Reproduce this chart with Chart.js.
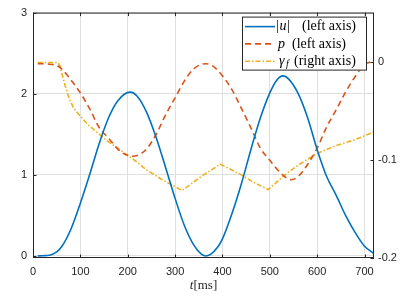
<!DOCTYPE html>
<html>
<head>
<meta charset="utf-8">
<script src="https://cdn.jsdelivr.net/npm/chart.js@4"></script>
<style>
  html, body { margin: 0; padding: 0; background: #fff; }
</style>
</head>
<body>
<canvas id="chart" width="411" height="299"></canvas>
<script>
// |u| (left axis)
var tU = [10, 20, 35, 50, 60, 80, 100, 120, 140, 160, 180, 205, 220, 240, 260, 280, 300, 320, 340, 355, 365,
  375, 390, 400, 420, 440, 460, 480, 500, 515, 528, 540, 560, 580, 600, 620, 640, 660, 680, 700, 720];
var uValues = [0, 0.003, 0.01, 0.05, 0.11, 0.33, 0.65, 1.01, 1.39, 1.71, 1.92, 2.02, 1.97, 1.77, 1.46, 1.09, 0.71, 0.37, 0.13, 0.025, 0,
  0.02, 0.11, 0.21, 0.52, 0.89, 1.31, 1.70, 2.01, 2.17, 2.22, 2.18, 2.00, 1.70, 1.31, 0.98, 0.75, 0.50, 0.29, 0.12, 0.03];

// p (left axis)
var tP = [10, 20, 40, 50, 60, 80, 100, 120, 140, 160, 180, 195, 210, 225, 240, 260, 280, 300, 320, 340, 365,
  380, 400, 420, 440, 460, 480, 500, 520, 545, 560, 580, 600, 620, 640, 660, 680, 700, 720];
var pValues = [2.37, 2.37, 2.36, 2.35, 2.31, 2.17, 2.01, 1.81, 1.58, 1.45, 1.31, 1.25, 1.23, 1.25, 1.32, 1.50, 1.74, 1.95, 2.16, 2.31, 2.37,
  2.34, 2.22, 2.05, 1.82, 1.58, 1.33, 1.18, 1.04, 0.94, 0.98, 1.13, 1.33, 1.59, 1.80, 2.02, 2.21, 2.36, 2.40];

// gamma_f (right axis)
var tGamma = [10, 53, 57, 62, 68, 75, 85, 100, 117, 134, 156, 177, 200, 220, 240, 260, 280, 300, 315,
  340, 360, 380, 395, 420, 440, 460, 480, 497, 520, 540, 560, 580, 600, 620, 640, 660, 680, 700, 720];
var gammaValues = [0, 0, -0.004, -0.013, -0.024, -0.035, -0.046, -0.055, -0.064, -0.071, -0.080, -0.087, -0.095, -0.102, -0.110, -0.116, -0.122, -0.127, -0.131,
  -0.122, -0.115, -0.109, -0.104, -0.110, -0.115, -0.121, -0.126, -0.130, -0.120, -0.112, -0.105, -0.099, -0.093, -0.089, -0.085, -0.082, -0.079, -0.075, -0.071];

var xTicks = [0, 100, 200, 300, 400, 500, 600, 700];
var leftTicks = [0, 1, 2, 3];
var rightTicks = [-0.2, -0.1, 0];

var axisColor = '#262626';
var gridColor = '#dfdfdf';
var tickFont = { family: '"Liberation Sans", Arial, sans-serif', size: 11 };
var serif = '"Liberation Serif", "Times New Roman", serif';

function points(ts, vs) {
  return ts.map(function (t, i) { return { x: t, y: vs[i] }; });
}

// MATLAB-like box, inward ticks, legend and x label
var decorations = {
  id: 'decorations',
  afterDraw: function (chart) {
    var ctx = chart.ctx, a = chart.chartArea, s = chart.scales;
    var len = 3.5;
    ctx.save();
    ctx.strokeStyle = axisColor;
    ctx.lineWidth = 1;
    ctx.beginPath();
    xTicks.forEach(function (v) {
      var x = Math.round(s.x.getPixelForValue(v)) + 0.5;
      ctx.moveTo(x, a.bottom); ctx.lineTo(x, a.bottom - len);
      ctx.moveTo(x, a.top); ctx.lineTo(x, a.top + len);
    });
    leftTicks.forEach(function (v) {
      var y = Math.round(s.y.getPixelForValue(v)) + 0.5;
      ctx.moveTo(a.left, y); ctx.lineTo(a.left + len, y);
    });
    rightTicks.forEach(function (v) {
      var y = Math.round(s.y1.getPixelForValue(v)) + 0.5;
      ctx.moveTo(a.right, y); ctx.lineTo(a.right - len, y);
    });
    ctx.stroke();
    ctx.strokeRect(a.left + 0.5, a.top + 0.5, a.right - a.left - 1, a.bottom - a.top - 1);

    // legend
    var bx = a.right - 132, by = a.top + 4, bw = 125, bh = 54;
    ctx.fillStyle = '#fff';
    ctx.fillRect(bx, by, bw, bh);
    ctx.strokeStyle = axisColor;
    ctx.strokeRect(bx + 0.5, by + 0.5, bw - 1, bh - 1);
    var rom = '14px ' + serif, ita = 'italic 14px ' + serif, sub = 'italic 10px ' + serif;
    var rows = [
      [['|', 34, rom, 0], ['u', 37.5, ita, 0], ['|', 45, rom, 0], ['(left axis)', 60, rom, 0]],
      [['p', 36, ita, 0], ['(left axis)', 50, rom, 0]],
      [['\u03b3', 37, ita, 0], ['f', 44, sub, 3], ['(right axis)', 52, rom, 0]]
    ];
    ctx.textBaseline = 'middle';
    rows.forEach(function (parts, i) {
      var ds = chart.data.datasets[i];
      var y = by + 10 + i * 17.3;
      ctx.save();
      ctx.strokeStyle = ds.borderColor;
      ctx.lineWidth = ds.borderWidth;
      ctx.setLineDash(ds.borderDash || []);
      ctx.beginPath();
      ctx.moveTo(bx + 3, y); ctx.lineTo(bx + 33, y);
      ctx.stroke();
      ctx.restore();
      ctx.fillStyle = '#000';
      parts.forEach(function (p) {
        ctx.font = p[2];
        ctx.fillText(p[0], bx + p[1], y + p[3]);
      });
    });

    // x axis title
    var cx = (a.left + a.right) / 2, ty = 286;
    ctx.font = 'italic 13px ' + serif;
    var w1 = ctx.measureText('t').width;
    ctx.font = '13px ' + serif;
    var w2 = ctx.measureText('[ms]').width;
    var x0 = cx - (w1 + w2) / 2;
    ctx.fillStyle = axisColor;
    ctx.font = 'italic 13px ' + serif;
    ctx.fillText('t', x0, ty);
    ctx.font = '13px ' + serif;
    ctx.fillText('[ms]', x0 + w1, ty);
    ctx.restore();
  }
};

new Chart(document.getElementById('chart').getContext('2d'), {
  type: 'line',
  data: {
    datasets: [
      {
        label: '|u| (left axis)',
        data: points(tU, uValues),
        yAxisID: 'y',
        borderColor: '#0072BD',
        borderWidth: 1.6,
        pointRadius: 0,
        cubicInterpolationMode: 'monotone'
      },
      {
        label: 'p (left axis)',
        data: points(tP, pValues),
        yAxisID: 'y',
        borderColor: '#D95319',
        borderWidth: 1.6,
        borderDash: [6, 4],
        pointRadius: 0,
        cubicInterpolationMode: 'monotone'
      },
      {
        label: 'gamma_f (right axis)',
        data: points(tGamma, gammaValues),
        yAxisID: 'y1',
        borderColor: '#EDB120',
        borderWidth: 1.6,
        borderDash: [5, 2, 1.5, 2],
        pointRadius: 0,
        tension: 0
      }
    ]
  },
  options: {
    responsive: false,
    animation: false,
    devicePixelRatio: 1,
    layout: { padding: { top: 12, left: 0, right: 0, bottom: 0 } },
    plugins: { legend: { display: false }, tooltip: { enabled: false } },
    scales: {
      x: {
        type: 'linear',
        min: 0,
        max: 720,
        afterBuildTicks: function (s) { s.ticks = xTicks.map(function (v) { return { value: v }; }); },
        afterFit: function (s) { s.height = 41; },
        grid: { color: gridColor, drawTicks: false },
        border: { display: false },
        ticks: { font: tickFont, color: axisColor, padding: 7, maxRotation: 0 }
      },
      y: {
        position: 'left',
        min: -0.025,
        max: 3,
        afterBuildTicks: function (s) { s.ticks = leftTicks.map(function (v) { return { value: v }; }); },
        afterFit: function (s) { s.width = 33; },
        grid: { color: gridColor, drawTicks: false },
        border: { display: false },
        ticks: { font: tickFont, color: axisColor, padding: 6 }
      },
      y1: {
        position: 'right',
        min: -0.2,
        max: 0.051,
        afterBuildTicks: function (s) { s.ticks = rightTicks.map(function (v) { return { value: v }; }); },
        afterFit: function (s) { s.width = 37; },
        grid: { display: false, drawTicks: false },
        border: { display: false },
        ticks: { font: tickFont, color: axisColor, padding: 4, callback: function (v) { return String(v); } }
      }
    }
  },
  plugins: [decorations]
});
</script>
</body>
</html>
